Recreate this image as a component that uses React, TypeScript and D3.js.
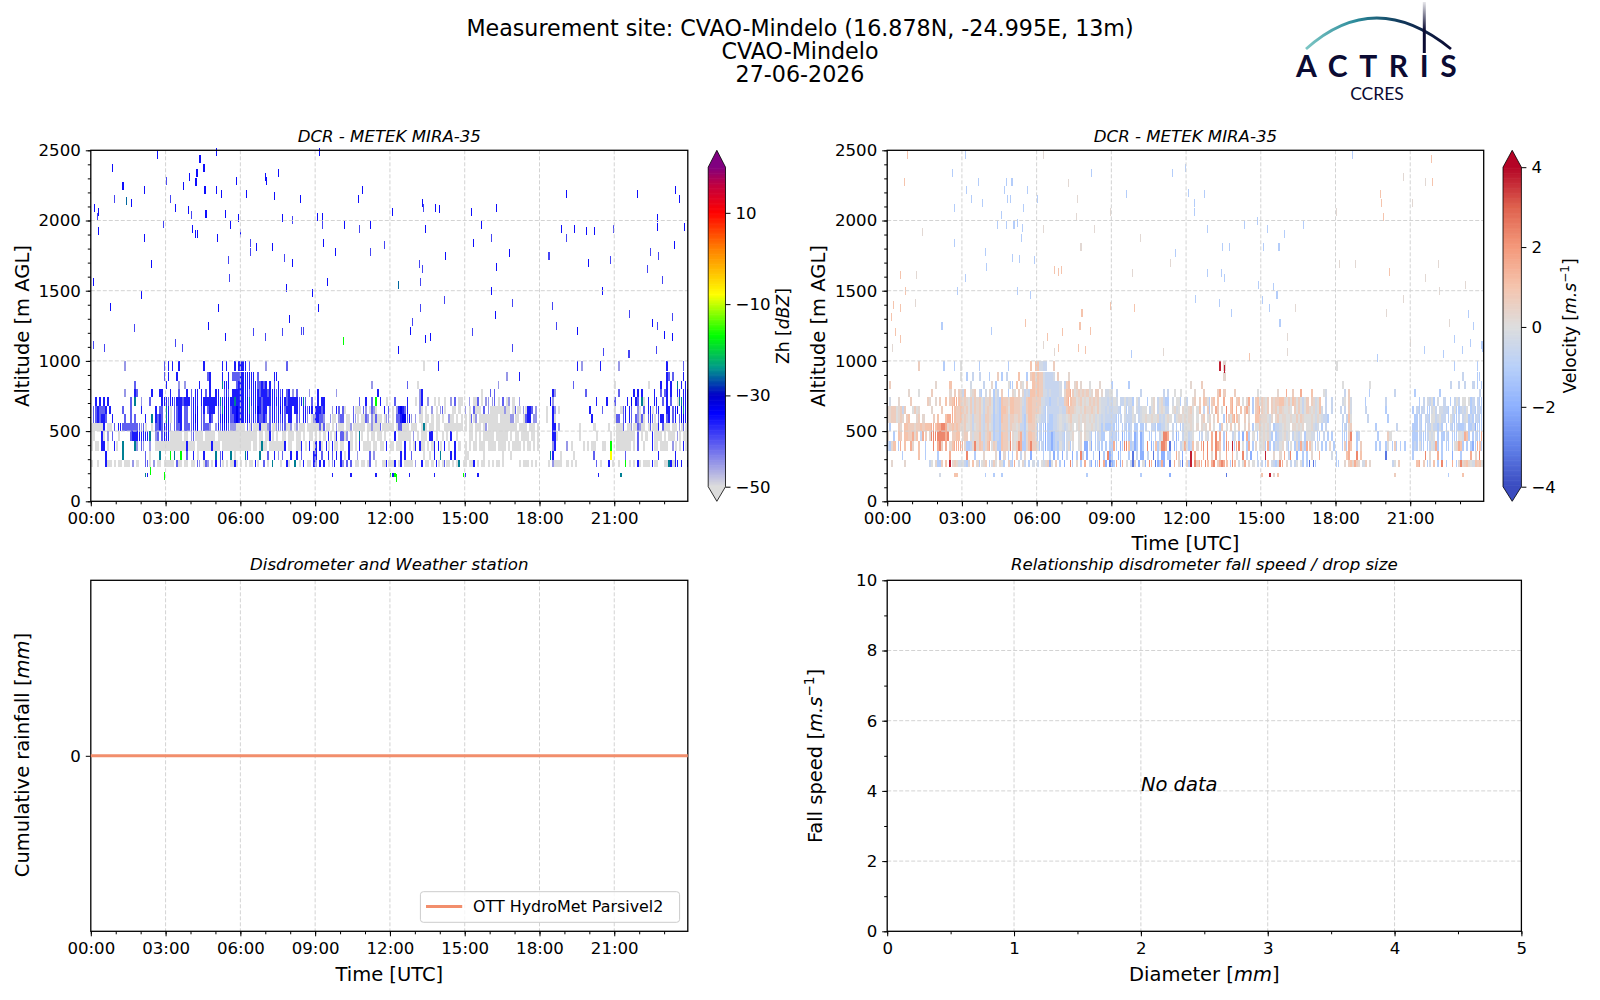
import * as d3 from 'd3';
import { useEffect, useRef } from 'react';

// Time ticks shared by the three time panels
const hourTicks = [0, 3, 6, 9, 12, 15, 18, 21];
const hourLabels = ['00:00', '03:00', '06:00', '09:00', '12:00', '15:00', '18:00', '21:00'];
const hourMinor = d3.range(0, 24);
const altTicks = [0, 500, 1000, 1500, 2000, 2500];
const altMinor = d3.range(0, 2501, 100);
const zhTicks = [-50, -30, -10, 10];
const velTicks = [-4, -2, 0, 2, 4];
const diamTicks = [0, 1, 2, 3, 4, 5];
const diamMinor = d3.range(0, 5.01, 0.5);
const speedTicks = [0, 2, 4, 6, 8, 10];
const speedMinor = d3.range(0, 11, 1);

// Colormaps
const zhStopValues = [-50, -34, -30, -24, -17, -8, 2, 10, 16, 20];
const zhStopColors = ['#dcdcdc', '#0000ff', '#0000c8', '#009a8a', '#00ff00', '#ffff00', '#ff8000', '#ff0000', '#c00040', '#800080'];
const velStopValues = [-4, -3, -2, -1, 0, 1, 2, 3, 4];
const velStopColors = ['#3b4cc0', '#6282ea', '#8db0fe', '#b8d0f9', '#dddddd', '#f5c4ad', '#f4987a', '#de604d', '#b40426'];

// Altitude bands [base, top] of the rows below, top row first
const rowBands = [
  [925, 1000], [860, 920], [800, 860], [740, 800], [680, 740], [620, 680], [560, 620],
  [500, 560], [430, 500], [360, 430], [295, 360], [245, 295], [175, 205],
];

// One character per 5 minutes, one space every 3 hours
const zhLevels: Record<string, number> = { g: -50, l: -45, p: -41, b: -36, d: -33, t: -25, n: -17, y: -8 };
const zhRows = [
  '................l..................p .b.b..b...........b........b.b...b.b bbb.p.......l.........p............. . ................g......b............ . ..................b.l........b...... ..l......................b.......p..',
  '...................................p .b...b..............pb.....b..b.pppp bbbbbbb.p.......bb.................. . . ....................l.....b......... . .........................bp.p....b..',
  '.....................p.............. b.....l..l......b....b.....tbbb...pbb bbbbbbbbppbpb.b.p.b................. ...........................l........ ........p....g...................... ................l................... ................p................... g...............g.....b..b.b..t.b.b.',
  '................l....bp......b...bb. ..b...p...b.p.bb.b.p.b..bb..pbp.bbbb bbbbpbbbbpbbbpbbbpbpb.pb.l.p.....l.. .b........l...................b..... ..............lb.................... ........g...p.p..................... ......bl..............p............. ..p......b.b.b.....b..p.pb.b..bb.bbb',
  '..b.b.b.b..........p.t..l...p.....bb bpbbpbbbpbbbpbbb.bbbbbbbbbtbbdbbbtbb bbbdtbbbbbpbbbbbbbbbbbpbbbbbpbtp..p. .b.bb................p..b..p.n.b..g. ..p.....b...g.lb..l..g.g..g..l.p.gg ..l.ggp.g.ll.lp.g.p.gl.g..l......... .....dl....................b....b... p.....b.d.bp.tg.b..bb..p.b.p..gttbbb',
  '.ppbpppb.b.....p...p....b......b.pp. tbg.ppbb.pp.pbbd.pb.pbbb.pptddbpbbdb bbbdtpbbdbpbb.pbbpbdbpbbb.bbp.bbpbb. bbbpb...l.bp.pg...pggg.pl.gplg...b.p .g.lbdbpb.....lg.g..l.g.lpg...gg.g.. l.g.pggg.p.lggggggglgg.gpgg.lgbbp.l. ...g..bl.g..............b.....p..... g..gpb.bp..lg.p.bbg.pb...bb.pbd.dtbb',
  '.ppbpbbp..b.....p..p.p....b..t.bpbp. tbg.ppbb.pp.pbdd.pp..bp..pbdddbppbdb bbbdbpbpbppbp.pbbpbpbp.bb..pp.bbl.gl bbppl..lgg.lpp.gg.plg.ggpl.lgpgg.gll .g.ppbddpbl.l.gg.gg.g.gg.g..lgg.g.g. g.gpgl.ggggggggg.gggggllgg..gpbb.ll. ...g..bg.................b.......... gpp.pb.bp.plgpg.pbpg.pbb.pb.pb.pddbb',
  'ggggggb.gg.p.bbppppppppplpg..g.ppbpb bbl.pppb.ppppbbd.ppppl..lbpbbbplllgg gg.pgpgggbggglpgglplppggl.glggg.gggg ggpgpgg.g.lggg.gglgggggg.gglgggpgggg gg.gppggg.ggg..gtg.gg.gg..ggggggggg. g.gg.ggg.glgggggggggggggg.gggg.ggg.g ......bb.l.........g......g......g.. .gggp.gglggplgg.gpgggb.pggg.gg.lgpgg',
  'gg...bg.l.p..g.....pbbbbbbbbt..lp.pb bbgggggg.gg.lpgggg.ggggg.ggggggggggg gggggggg.gg.ggbg.g..gg.ggg.gg.g..gg. g.g.g.bg.gb.ppgl.g.g.tg..g.gg.gg.g.. ..b.gggggg.l.g.ggg.bb.g..g.g.b..g... ..gg.g.g.ggggg.gggggg.g.gg.gggg.gg.g ......bbg..........g.......g......g.. .ggggggggg.p.g.g..bgggg.g.ggg.lg.gg.',
  'g.gg.bb.g..bg..t.....tl.pl..l..ggggg ggggggggggbggg.gggggggbggg.ggggggggg ggggg.gg.gtgg.gggggggb.gg..ggb.g.b.g b.bg.bg.bgg.gg..bg.g.b.gggg.gg.gg.b. gg.ggg.b.g.gb.bgg.g.gb.bg.b.g..b.g.. g.g.gg.ggg.gggg.gggg.g.gggg.g.gg.g.g ......lb.....l.g.....g.g.gg...gg..n. .ggggggg.g.p..g...bgg.gggg..lg.g.bg.',
  '.......b.......t..........p.g....t.. ..n.t..n..p..b.g..b.....t.pb...t.g.. ..tb.....t...p..b.l.p...b..b.p.....b b..p..b.p.b.b.g.b...l.....p.l....... .....b.b..p.....g..g.b..t....b.b.... gg.......g........g...g............. .....tb...g.....g.........p.......y. .....p...............b.......b......',
  'g..g...bgg.g.gg.ggg.l.g...ppg.l.gg.g gggg.pgg.gg.gg.pl.gpl.g.b.pg.g.ggbg g.g.gg.bg..p.g.t...g..bg..t.g.b.gg.b l.b.b.g.lb..bl.p.p.gg.gg.gp..g..ggbg ggb.gb.gggg.l..b.gg.g.bg.gpgg.g.gt.g g.ggb.g.gg.g.g.gg.g.......g.ggg.g.g. ....g.lgggg..g.g.g.........p.g...b.g ..g..n.g.g.bg.ggg.bgg...ggtbgbb.b..b',
  '..........................tb.......n . . ........b........b...........b...... nbn......b...........b.............n b.....b............................. ............................b....... ...t................................',
];

const velLevels: Record<string, number> = {
  A: -3.2, B: -2, C: -1.1, D: -0.6, E: -0.3, F: 0, G: 0.3, H: 0.65, I: 1, J: 1.5, K: 2.3, L: 3.7,
};
const velRows = [
  '...............H...........C....C..F ........C.............C..........I.I IEEDD...H........................... . ................L.G................. . F................................... .....................C..........C...',
  '...................................F ..C..D..D....C...H.C.D.....I...C.HIG IHHEDDDDE.H....G.................... . ..................G................. . . .........................D......CC..',
  '.H.....................G......I..... ....E.....D...G.C.....FCC.I.GF.H..IHH IHHEDDDDDDDE.DHI..GH.G...F....G..... C.......C........................... ..G....H............................ . ...F............F................... ...................D...D..D...D.C.C.',
  '..........G....F.....H........G.H.HG DI..FGH.DC.E.G.CFD.H..C.GF.H.GDEDIIH IHHEEDEDDDDE.GIIJHFGHGHGHFG.HH.G.EEF F.D...........D..........D.D..F..F.. ....G...H......HJ.H....H..........F. ........G...J..H...J....I.....FE.... ....D.H.........C...........D....... ..C...........C..................D.C',
  '.E...G.....H.......HG..G.H..I.HIJJIH GHGFHEHGHFDGGHFCEDCIHHGIIHHHGEDHIIHH HHEEDDCDDDEDDHIJIHHFGHFGFHGHGHFEEEDE DFE.DDFDEEC.FD...C.FG.DFGDCC.E.FFC.F D..GH.H.IHFCHI.I..J..IJ.HI.F.GJ.CHIF HGFH.HGHHIIGFHFIHFHFDFH.HGEFI..D..D. ...EF.HE......C.........D........... ....C.D.EDFC.E..D..C.DFD.FF.FCD.DCCC',
  'GGHHFGHDH...FHFG.....G....H....JIHHI HGHFHEHGHFDGHGFCEDCIIHFIIHHHGDDHIIHH HGEDCDDDDDDEDDHIHHGFFGFHGGHGFHFEEDED DEEDC.FCDDF.EDEFF.DFG.DFGFDD.FGEF.GF FGHF.FI.D.HCG.JH.F.K.IJ.J.I.HJG.CHIJ HGFH.HGHFHGFFGF.HFHFDFHGFGEFIE.D..D. ..D.D.HE......D.........C........... .C.DCDD.CCEFD.EEDDC.DFCCDEDF.CDCDDCC',
  'GGHHFGHG.HI...GH.G....H.I...IJJJIHHI GHGFGDGGHEDHHGECDDCIHHEHHGGHGDCGIIHG FEDDCDCCDDEFEEFGHFFFGFGGFGFGEFEDEDDD DDCCD.EDDDFE.DEFGFFGFFGDEDFGF.DFGGFG FGGF.F.GH.FG.G.I..CJHFIJIG..H.G..IIH GGGFEG.GHFGGFFGFFHFHGFFFGFEGFEDDC... ...D.DIF.......D.........C.......... ..CCDC.DDCFFDEFDD.CFDCCD.DEFCDCDDCCC',
  '.C...HG.IIHHHGHHIHIIIJJIJJKKJGHIHIHG GHFFGDFGHEDGHFECDDCHHHEHGGFGDDCFHHHG CDCCBCCCDDEFEDEFGF.FGF.GFFGFEFECECCC DCCC.CDCCD.CC.CCD..DDCCCDDFE.D.C.CDF FFGF.G.GFG.H.F..CH.F.H.F.H..G.H.CFFH FGFGE.CDDEFGFF.GGFGFG.FFGEDE.C.D.... ...CDCGH...........C.........D...... .CCCDC.CDDFDDCEC.C.DCCDCCCD.CCDBCCCC',
  'G..C.IH.IIHHJGI.DJH.GKKKKKKKJK.HHII. GHH.GEGGIEDGHIFCDDCIHHEJGFFHJDCGIIHG CDCCBCCBCDDEDCEEFG..FG.GFEC.CDECC..D CDCC.BCCCD.BC.BC..CC.C.DFKKJ.D.BC.DF FDEF..CD.FE.J.K.J.CJ..DF.C.B.JC.F.CG FGFGEC.CDEFGEF.DFEDF.CFFEE.CC.D.C.C. ...CCCHK..CD........C....HF.......... .CCCDCCCDFEF.C.CCDC.CCCFFEJIC.CDCCJC',
  'DCGI.CJ.I..JG..I..C...K.JKH.J.GIJJJJ JGCCDGKGIHDGIJFHGCCIHHFKGFHKJCCGIKHH FCDCBCCBCDCFDCEGCF..FG.BBFB.CDCC.C.C CJC.BCKKICDBC.BC.K.BCICFKKJ.A.BC.DFJ FCDI.G.JK.K.J.KJI.CKJ.LCJK.F.CJ.CG.F FGCJC.CEDFG.ECF.CGCJECJIF.CF.C.C.G.C ...CHCJI..C.H......C.C..CF.CHC.C.C.. .CDCFCC.CDFEJC.C.CC.CFGJIC.C.CBCJIC.',
  '.......C.......I..C.....C.....J..... ..K...C...G.....G.B.G.C.C.I.D.G..B.. ...C..D.B.C.B.D..B.C.KD.B..C..A.C.KB C..BC...C.A.D.BB.D..A.C.BB.CC..JG.B ..L.J...J.K.G.K.G..J..J.F..K.D.B..C. ..L...G..G.J.DK..B..C.C.G...J.....E. C....IJ...K.I...........A........... .C.....K.G...J.C....B...C....J.G.K..',
  '..G.....G...........DF.GCCH.I.LGHGEE FDCG.I.GCFGH.CEHF.GFC.HDCJ.E.GD.C.E. D.FEGHBF.H.C.B..KC.G.C.J.DB.BCK.JB.A BCJ.BJ.F.DAG.B.FB.KJ.ABCJB..A.J.GCA HCL.KHJJ.KI.JK.HJKJI.CKI.E.FJ.G.F.D. D.CI.EDCEKJ.G.D.DF.FC.CA.AC........ CC..G.HIGJHG.EH.G..........DF.H..... ...IJ.H.CE.I.C.K.C..J.CGKGHIGFEIHIF',
  '.........................E......II.. ...........C...C...C................ ........................C........... ..............C.............B....... ...................A................ I...L.G.I........................... ............................H....... ..................C......I..........',
];

// Isolated echoes above the cloud layer: [hour, altitude]
const zhBlueStrays = [
  [2.64, 2467], [5.01, 2490], [9.15, 2490], [4.36, 2436], [0.86, 2372], [4.52, 2372], [7.49, 2341], [4.24, 2341],
  [3.95, 2312], [4.2, 2277], [5.81, 2279], [1.27, 2248], [3.68, 2246], [6.98, 2312], [7.04, 2279], [2.15, 2217],
  [4.56, 2217], [5.03, 2217], [5.22, 2189], [10.87, 2217], [6.24, 2189], [7.35, 2175], [1.62, 2122], [8.41, 2155],
  [10.7, 2153], [19.05, 2189], [21.92, 2189], [23.45, 2217], [23.58, 2153], [13.3, 2122], [13.8, 2091], [13.96, 2080],
  [12.07, 2063], [15.27, 2063], [16.25, 2091], [0.12, 2091], [0.29, 2063], [3.36, 2091], [3.89, 2075], [4.6, 2044],
  [5.38, 2044], [5.9, 2015], [7.67, 2015], [9.07, 2027], [9.29, 2027], [22.7, 2015], [22.7, 1956], [0.29, 1925],
  [4.07, 1937], [4.18, 1904], [4.26, 1904], [5.59, 1968], [5.98, 1909], [10.15, 1968], [11.2, 1968], [13.39, 1937],
  [15.66, 1968], [18.85, 1937], [19.38, 1937], [19.87, 1925], [20.2, 1925], [23.78, 1956], [2.15, 1873], [5.08, 1873],
  [9.31, 1840], [6.61, 1814], [7.25, 1814], [9.78, 1778], [15.35, 1840], [16.78, 1766], [23.39, 1826], [14.22, 1747],
  [8.08, 1700], [19.95, 1700], [2.42, 1688], [16.25, 1671], [9.48, 1564], [0.08, 1564], [7.82, 1517], [8.86, 1481],
  [2.03, 1470], [16.07, 1500], [20.49, 1500], [0.78, 1386], [5.12, 1375], [9.13, 1375], [16.21, 1327], [7.96, 1296],
  [12.79, 1215], [19.52, 1215], [5.38, 1173], [13.59, 1173], [13.39, 1156], [23.0, 1185], [23.31, 1173], [12.34, 1078],
  [4.71, 1251], [22.51, 1268],
];
const zhPaleStrays = [
  [3.0, 2279], [0.94, 2153], [3.19, 2153], [13.34, 2091], [0.25, 2027], [4.0, 2039], [8.08, 2004], [2.89, 1973],
  [9.29, 1968], [10.75, 1937], [16.07, 1873], [19.05, 1873], [20.94, 1937], [6.37, 1842], [6.37, 1778], [11.75, 1826],
  [11.2, 1778], [18.36, 1747], [22.43, 1778], [22.76, 1747], [7.74, 1731], [5.5, 1719], [20.84, 1719], [13.18, 1688],
  [13.28, 1655], [22.33, 1655], [5.53, 1593], [13.22, 1564], [22.92, 1576], [14.18, 1434], [16.88, 1410], [13.22, 1375],
  [18.52, 1391], [21.59, 1332], [23.33, 1315], [1.72, 1232], [12.87, 1280], [18.66, 1251], [22.72, 1251], [6.51, 1204],
  [7.67, 1204], [8.43, 1215], [8.51, 1215], [15.31, 1204], [6.98, 1173], [0.08, 1113], [0.51, 1090], [3.36, 1125],
  [3.66, 1092], [16.88, 1092], [20.55, 1066], [22.67, 1078], [21.57, 1047],
];
const zhTealStrays = [[1.43, 2139], [12.34, 1541]];
const zhGreenStrays = [[10.13, 1142], [2.38, 215], [2.95, 180], [12.25, 165]];

const velBlueStrays = [
  [3.12, 2467], [18.67, 2467], [2.59, 2341], [8.17, 2341], [11.44, 2341], [11.97, 2372], [3.63, 2277], [4.76, 2277],
  [4.99, 2277], [3.16, 2217], [4.68, 2217], [5.61, 2217], [12.09, 2198], [12.73, 2189], [9.59, 2189], [4.8, 2153],
  [4.94, 2153], [6.0, 2153], [3.37, 2153], [12.32, 2127], [2.67, 2091], [3.82, 2122], [4.56, 2039], [5.46, 2091],
  [12.32, 2063], [14.83, 1999], [4.39, 1968], [4.76, 1968], [5.07, 1968], [5.2, 1985], [5.42, 1945], [14.33, 1968],
  [15.24, 1937], [16.69, 1968], [12.85, 1937], [15.95, 1904], [5.39, 1873], [2.67, 1840], [13.45, 1814], [13.72, 1814],
  [15.07, 1814], [15.71, 1814], [3.92, 1778], [11.56, 1766], [5.01, 1735], [5.28, 1725], [5.91, 1719], [3.96, 1671],
  [12.85, 1624], [13.41, 1624], [13.53, 1593], [3.12, 1593], [14.87, 1541], [15.5, 1529], [5.22, 1500], [2.79, 1500],
  [5.75, 1470], [15.63, 1470], [12.36, 1440], [13.33, 1410], [15.03, 1434], [15.32, 1375], [13.8, 1344], [23.33, 1332],
  [2.18, 1251], [15.75, 1268], [23.51, 1251], [4.15, 1215], [22.77, 1156], [23.41, 1125], [23.86, 1113], [9.79, 1047],
  [21.56, 1078], [23.08, 1078], [23.9, 1090], [22.32, 1047], [19.65, 1018],
];
const velOrangeStrays = [
  [0.8, 2467], [21.83, 2436], [0.66, 2277], [21.87, 2277], [19.77, 2189], [19.81, 2122], [19.92, 2027], [6.71, 1647],
  [6.96, 1647], [6.84, 1636], [0.53, 1612], [20.16, 1636], [0.7, 1500], [0.25, 1398], [8.95, 1391], [0.53, 1375],
  [7.8, 1344], [9.92, 1375], [0.16, 1315], [5.54, 1268], [7.72, 1251], [0.31, 1204], [8.13, 1215], [7.02, 1204],
  [6.43, 1173], [0.53, 1156], [6.86, 1090], [7.66, 1090], [7.95, 1078], [14.54, 1030],
];
const velGreyStrays = [
  [6.26, 2467], [20.7, 2312], [21.58, 2277], [7.25, 2265], [7.62, 2153], [21.07, 2122], [18.0, 2063], [8.95, 2063],
  [7.58, 2027], [1.38, 1921], [6.24, 1937], [8.32, 1937], [10.16, 1873], [7.76, 1814], [11.36, 1700], [18.15, 1688],
  [18.77, 1688], [22.11, 1688], [9.82, 1624], [1.15, 1612], [21.6, 1593], [23.18, 1541], [22.15, 1500], [1.11, 1410],
  [16.39, 1375], [20.72, 1440], [20.02, 1344], [22.55, 1268], [16.06, 1173], [20.99, 1125], [0.18, 1092], [6.26, 1113],
  [6.71, 1066], [11.09, 1066], [16.06, 1066],
];
const velRedStrays = [[13.53, 945]];

const rainHours = [0, 24];
const rainValues = [0, 0];

const FONT = 'DejaVu Sans';
const BLACK = '#000';
const GRID = '#d3d3d3';
const RAIN_COLOR = '#f28e6c';
const HOUR_END = 23.95;
const COL_WIDTH = 1 / 12;
const THIN_SHARE = 0.75;
const STRAY_WIDTH = 0.042;
const STRAY_DEPTH = 58;
const TICK_SIZE = 16.6;
const LABEL_SIZE = 19.5;
const TITLE_SIZE = 16.6;

const topRow = { top: 150.3, bottom: 501.3 };
const bottomRow = { top: 580.3, bottom: 931.3 };
const leftCol = { left: 90.8, right: 687.8 };
const rightCol = { left: 887.2, right: 1483.7 };
const DIAM_RIGHT = 1521.4;

type TextPart = { t: string; italic?: boolean; sup?: boolean };
type Sel = d3.Selection<any, any, any, any>;

const putText = (
  svg: Sel,
  parts: TextPart[],
  x: number,
  y: number,
  size: number,
  opts: { rotate?: boolean; anchor?: string; italic?: boolean } = {},
) => {
  const text = svg
    .append('text')
    .attr('font-family', FONT)
    .attr('font-size', size)
    .attr('fill', BLACK)
    .attr('text-anchor', opts.anchor ?? 'middle')
    .attr('font-style', opts.italic ? 'italic' : 'normal')
    .attr('transform', opts.rotate ? `translate(${x},${y}) rotate(-90)` : `translate(${x},${y})`);
  parts.forEach((part, i) => {
    const prevSup = i > 0 && parts[i - 1].sup;
    text
      .append('tspan')
      .attr('font-style', part.italic || opts.italic ? 'italic' : 'normal')
      .attr('font-size', part.sup ? size * 0.7 : size)
      .attr('dy', part.sup ? -size * 0.42 : prevSup ? size * 0.42 : 0)
      .text(part.t);
  });
};

// Spines, ticks, minor ticks and dashed grid for one panel
const drawFrame = (
  svg: Sel,
  x: d3.ScaleLinear<number, number>,
  y: d3.ScaleLinear<number, number>,
  xTicks: number[],
  xLabels: string[] | null,
  xMinor: number[],
  yTicks: number[],
  yMinor: number[],
) => {
  const [l, r] = x.range();
  const [b, t] = y.range();
  const grid = svg.append('g').attr('stroke', GRID).attr('stroke-width', 1).attr('stroke-dasharray', '4,2');
  grid
    .selectAll('.gx')
    .data(xTicks.filter((d) => x(d) > l + 1 && x(d) < r - 1))
    .join('line')
    .attr('x1', (d) => x(d))
    .attr('x2', (d) => x(d))
    .attr('y1', t)
    .attr('y2', b);
  grid
    .selectAll('.gy')
    .data(yTicks.filter((d) => y(d) < b - 1 && y(d) > t + 1))
    .join('line')
    .attr('x1', l)
    .attr('x2', r)
    .attr('y1', (d) => y(d))
    .attr('y2', (d) => y(d));

  const style = (axis: Sel) => {
    axis.select('.domain').remove();
    axis.selectAll('line').attr('stroke', BLACK).attr('stroke-width', 1);
    axis.selectAll('text').attr('font-family', FONT).attr('font-size', TICK_SIZE).attr('fill', BLACK);
  };
  const bottom = d3
    .axisBottom(x)
    .tickValues(xTicks)
    .tickSize(5)
    .tickPadding(6)
    .tickFormat((d, i) => (xLabels ? xLabels[i] : `${d}`));
  svg.append('g').attr('transform', `translate(0,${b})`).call(bottom).call(style);
  svg
    .append('g')
    .attr('transform', `translate(0,${b})`)
    .call(d3.axisBottom(x).tickValues(xMinor.filter((d) => x(d) <= r)).tickSize(3).tickFormat(() => ''))
    .call(style);
  svg
    .append('g')
    .attr('transform', `translate(${l},0)`)
    .call(d3.axisLeft(y).tickValues(yTicks).tickSize(5).tickPadding(5).tickFormat((d) => `${d}`))
    .call(style);
  svg
    .append('g')
    .attr('transform', `translate(${l},0)`)
    .call(d3.axisLeft(y).tickValues(yMinor).tickSize(3).tickFormat(() => ''))
    .call(style);
  svg
    .append('rect')
    .attr('x', l)
    .attr('y', t)
    .attr('width', r - l)
    .attr('height', b - t)
    .attr('fill', 'none')
    .attr('stroke', BLACK)
    .attr('stroke-width', 1.3);
};

// Radar cells: coded rows first, then the loose echoes
const drawCurtain = (
  svg: Sel,
  x: d3.ScaleLinear<number, number>,
  y: d3.ScaleLinear<number, number>,
  rows: string[],
  levels: Record<string, number>,
  color: (v: number) => string,
  isThin: (v: number) => boolean,
  strays: { points: number[][]; value: number }[],
) => {
  const cells: { h: number; base: number; top: number; w: number; v: number }[] = [];
  rows.forEach((row, r) => {
    row.split(' ').forEach((group, g) => {
      group.split('').forEach((c, i) => {
        if (c in levels) {
          const v = levels[c];
          const w = isThin(v) ? COL_WIDTH * THIN_SHARE : COL_WIDTH;
          cells.push({ h: 3 * g + i * COL_WIDTH, base: rowBands[r][0], top: rowBands[r][1], w, v });
        }
      });
    });
  });
  strays.forEach((s) =>
    s.points.forEach(([h, alt]) =>
      cells.push({ h, base: alt - STRAY_DEPTH / 2, top: alt + STRAY_DEPTH / 2, w: STRAY_WIDTH, v: s.value }),
    ),
  );
  svg
    .append('g')
    .attr('shape-rendering', 'crispEdges')
    .selectAll('rect')
    .data(cells.filter((c) => c.h < HOUR_END))
    .join('rect')
    .attr('x', (c) => x(c.h))
    .attr('y', (c) => y(c.top))
    .attr('width', (c) => x(Math.min(c.h + c.w, HOUR_END)) - x(c.h))
    .attr('height', (c) => y(c.base) - y(c.top))
    .attr('fill', (c) => color(c.v));
};

const drawColorbar = (
  svg: Sel,
  left: number,
  right: number,
  scale: d3.ScaleLinear<number, number>,
  color: (v: number) => string,
  ticks: number[],
  under: string,
  over: string,
) => {
  const [bodyBottom, bodyTop] = scale.range();
  const [vMin, vMax] = scale.domain();
  const tipBottom = topRow.bottom;
  const tipTop = topRow.top;
  const mid = (left + right) / 2;
  svg.append('path').attr('d', `M${left},${bodyBottom}L${mid},${tipBottom}L${right},${bodyBottom}Z`).attr('fill', under);
  svg.append('path').attr('d', `M${left},${bodyTop}L${mid},${tipTop}L${right},${bodyTop}Z`).attr('fill', over);
  const steps = d3.range(0, 256).map((i) => vMin + ((vMax - vMin) * i) / 256);
  const stepH = (bodyBottom - bodyTop) / 256;
  svg
    .append('g')
    .selectAll('rect')
    .data(steps)
    .join('rect')
    .attr('x', left)
    .attr('width', right - left)
    .attr('y', (d) => scale(d) - stepH - 0.3)
    .attr('height', stepH + 0.6)
    .attr('fill', (d) => color(d));
  svg
    .append('path')
    .attr('d', `M${left},${bodyBottom}L${mid},${tipBottom}L${right},${bodyBottom}L${right},${bodyTop}L${mid},${tipTop}L${left},${bodyTop}Z`)
    .attr('fill', 'none')
    .attr('stroke', BLACK)
    .attr('stroke-width', 0.8);
  const axis = d3
    .axisRight(scale)
    .tickValues(ticks)
    .tickSize(5)
    .tickPadding(5)
    .tickFormat((d) => `${d}`.replace('-', '\u2212'));
  svg
    .append('g')
    .attr('transform', `translate(${right},0)`)
    .call(axis)
    .call((a: Sel) => {
      a.select('.domain').remove();
      a.selectAll('line').attr('stroke', BLACK);
      a.selectAll('text').attr('font-family', FONT).attr('font-size', TICK_SIZE).attr('fill', BLACK);
    });
};

const drawLogo = (svg: Sel) => {
  const defs = svg.append('defs');
  const arc = defs.append('linearGradient').attr('id', 'logoArc').attr('gradientUnits', 'userSpaceOnUse').attr('x1', 1306).attr('x2', 1450).attr('y1', 0).attr('y2', 0);
  arc.append('stop').attr('offset', 0).attr('stop-color', '#7cc6c4');
  arc.append('stop').attr('offset', 0.35).attr('stop-color', '#2b8a9a');
  arc.append('stop').attr('offset', 0.65).attr('stop-color', '#123a5c');
  arc.append('stop').attr('offset', 1).attr('stop-color', '#0b0b33');
  const mast = defs.append('linearGradient').attr('id', 'logoMast').attr('gradientUnits', 'userSpaceOnUse').attr('x1', 0).attr('x2', 0).attr('y1', 2).attr('y2', 30);
  mast.append('stop').attr('offset', 0).attr('stop-color', '#0b0b33').attr('stop-opacity', 0.1);
  mast.append('stop').attr('offset', 1).attr('stop-color', '#0b0b33');
  svg.append('path').attr('d', 'M1306,49Q1375,-13 1451,49').attr('fill', 'none').attr('stroke', 'url(#logoArc)').attr('stroke-width', 2.8);
  svg.append('rect').attr('x', 1422.8).attr('y', 2).attr('width', 3).attr('height', 51).attr('fill', 'url(#logoMast)');
  svg
    .append('text')
    .attr('x', 1296)
    .attr('y', 77)
    .attr('font-family', 'Lato')
    .attr('font-weight', 700)
    .attr('font-size', 30)
    .attr('fill', '#0b0b33')
    .attr('letter-spacing', 11.6)
    .text('ACTRIS');
  svg
    .append('text')
    .attr('x', 1377)
    .attr('y', 100)
    .attr('text-anchor', 'middle')
    .attr('font-family', 'Lato')
    .attr('font-size', 17.5)
    .attr('fill', '#0b0b33')
    .text('CCRES');
};

export default function App() {
  const svgRef = useRef<SVGSVGElement>(null);

  useEffect(() => {
    if (!svgRef.current) {
      return;
    }
    const svg = d3.select(svgRef.current);
    svg.selectAll('*').remove();

    // Scales
    const xTL = d3.scaleLinear().domain([0, HOUR_END]).range([leftCol.left, leftCol.right]);
    const xTR = d3.scaleLinear().domain([0, HOUR_END]).range([rightCol.left, rightCol.right]);
    const yTop = d3.scaleLinear().domain([0, 2500]).range([topRow.bottom, topRow.top]);
    const yRain = d3.scaleLinear().domain([-0.055, 0.055]).range([bottomRow.bottom, bottomRow.top]);
    const xDiam = d3.scaleLinear().domain([0, 5]).range([rightCol.left, DIAM_RIGHT]);
    const ySpeed = d3.scaleLinear().domain([0, 10]).range([bottomRow.bottom, bottomRow.top]);
    const zhColor = d3.scaleLinear<string>().domain(zhStopValues).range(zhStopColors).clamp(true);
    const velColor = d3.scaleLinear<string>().domain(velStopValues).range(velStopColors).clamp(true);
    const zhBar = d3.scaleLinear().domain([-50, 20]).range([486.7, 167.2]);
    const velBar = d3.scaleLinear().domain([-4, 4]).range([486.7, 167.2]);
    const leftMid = (leftCol.left + leftCol.right) / 2;
    const rightMid = (rightCol.left + rightCol.right) / 2;
    const diamMid = (rightCol.left + DIAM_RIGHT) / 2;

    svg.append('rect').attr('width', 1600).attr('height', 1000).attr('fill', '#fff');

    // Figure title and logo
    putText(svg, [{ t: 'Measurement site: CVAO-Mindelo (16.878N, -24.995E, 13m)' }], 800, 36, 22.2);
    putText(svg, [{ t: 'CVAO-Mindelo' }], 800, 59, 22.2);
    putText(svg, [{ t: '27-06-2026' }], 800, 82, 22.2);
    drawLogo(svg);

    // Reflectivity
    drawCurtain(svg, xTL, yTop, zhRows, zhLevels, zhColor, (v) => v > -48, [
      { points: zhBlueStrays, value: -35 },
      { points: zhPaleStrays, value: -39 },
      { points: zhTealStrays, value: -26 },
      { points: zhGreenStrays, value: -17 },
    ]);
    drawFrame(svg, xTL, yTop, hourTicks, hourLabels, hourMinor, altTicks, altMinor);
    drawColorbar(svg, 708.2, 725.5, zhBar, zhColor, zhTicks, '#dcdcdc', '#800080');

    // Doppler velocity
    drawCurtain(svg, xTR, yTop, velRows, velLevels, velColor, (v) => v <= -1 || v >= 1.2, [
      { points: velBlueStrays, value: -1.1 },
      { points: velOrangeStrays, value: 1 },
      { points: velGreyStrays, value: 0.2 },
      { points: velRedStrays, value: 3.8 },
    ]);
    drawFrame(svg, xTR, yTop, hourTicks, hourLabels, hourMinor, altTicks, altMinor);
    drawColorbar(svg, 1503, 1521.4, velBar, velColor, velTicks, '#3b4cc0', '#b40426');

    // Rain
    const rainLine = d3
      .line<number>()
      .x((_, i) => xTL(Math.min(rainHours[i], HOUR_END)))
      .y((d) => yRain(d));
    drawFrame(svg, xTL, yRain, hourTicks, hourLabels, hourMinor, [0], []);
    svg.append('path').datum(rainValues).attr('d', rainLine).attr('fill', 'none').attr('stroke', RAIN_COLOR).attr('stroke-width', 3);
    svg
      .append('rect')
      .attr('x', 420.4)
      .attr('y', 891.7)
      .attr('width', 259.2)
      .attr('height', 30.6)
      .attr('rx', 3)
      .attr('fill', '#fff')
      .attr('fill-opacity', 0.8)
      .attr('stroke', '#cccccc');
    svg.append('line').attr('x1', 426).attr('x2', 462.2).attr('y1', 906.5).attr('y2', 906.5).attr('stroke', RAIN_COLOR).attr('stroke-width', 3);
    putText(svg, [{ t: 'OTT HydroMet Parsivel2' }], 473, 912, 15.9, { anchor: 'start' });

    // Fall speed / size
    drawFrame(svg, xDiam, ySpeed, diamTicks, null, diamMinor, speedTicks, speedMinor);
    putText(svg, [{ t: 'No data' }], xDiam(2), ySpeed(4), LABEL_SIZE, { anchor: 'start', italic: true });

    // Panel titles
    putText(svg, [{ t: 'DCR - METEK MIRA-35' }], leftMid, 142, TITLE_SIZE, { italic: true });
    putText(svg, [{ t: 'DCR - METEK MIRA-35' }], rightMid, 142, TITLE_SIZE, { italic: true });
    putText(svg, [{ t: 'Disdrometer and Weather station' }], leftMid, 570, TITLE_SIZE, { italic: true });
    putText(svg, [{ t: 'Relationship disdrometer fall speed / drop size' }], diamMid, 570, TITLE_SIZE, { italic: true });

    // Axis labels
    putText(svg, [{ t: 'Altitude [m AGL]' }], 29, 326, LABEL_SIZE, { rotate: true });
    putText(svg, [{ t: 'Altitude [m AGL]' }], 825, 326, LABEL_SIZE, { rotate: true });
    putText(svg, [{ t: 'Cumulative rainfall [' }, { t: 'mm', italic: true }, { t: ']' }], 29, 755, LABEL_SIZE, { rotate: true });
    putText(svg, [{ t: 'Fall speed [' }, { t: 'm.s', italic: true }, { t: '\u22121', sup: true }, { t: ']' }], 822, 756, LABEL_SIZE, { rotate: true });
    putText(svg, [{ t: 'Time [UTC]' }], rightMid, 550, LABEL_SIZE);
    putText(svg, [{ t: 'Time [UTC]' }], leftMid, 981, LABEL_SIZE);
    putText(svg, [{ t: 'Diameter [' }, { t: 'mm', italic: true }, { t: ']' }], diamMid, 981, LABEL_SIZE);
    putText(svg, [{ t: 'Zh [' }, { t: 'dBZ', italic: true }, { t: ']' }], 789, 326, 17.2, { rotate: true });
    putText(svg, [{ t: 'Velocity [' }, { t: 'm.s', italic: true }, { t: '\u22121', sup: true }, { t: ']' }], 1576, 326, 17.2, { rotate: true });
  }, []);

  return (
    <div style={{ width: 1600, height: 1000, position: 'absolute', left: 0, top: 0 }}>
      <svg ref={svgRef} width={1600} height={1000} style={{ display: 'block' }} />
    </div>
  );
}
